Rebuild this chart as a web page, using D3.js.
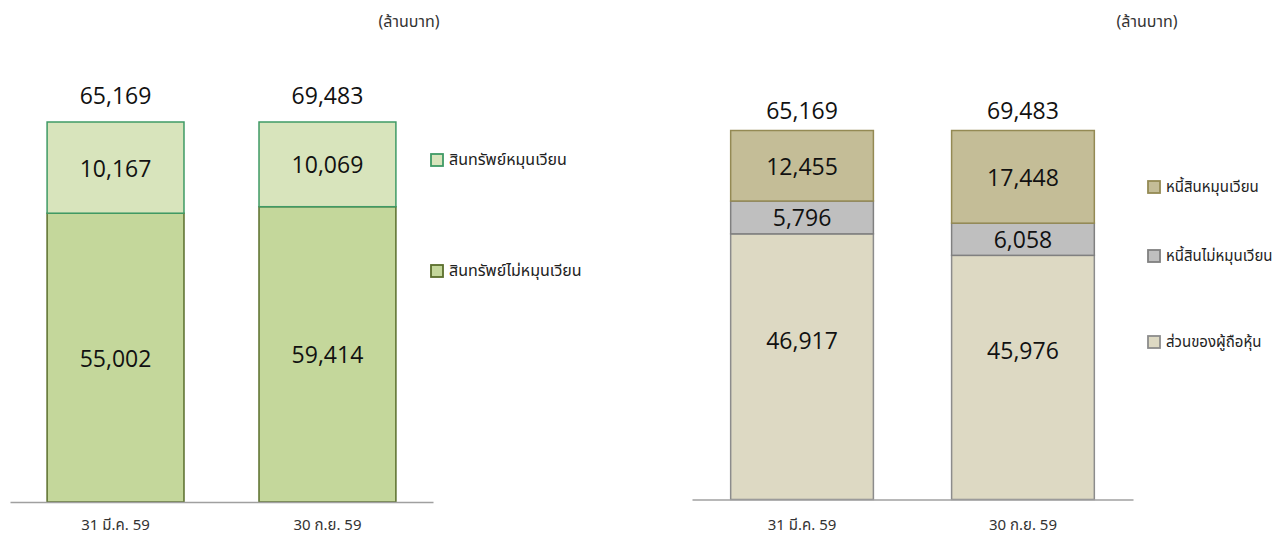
<!DOCTYPE html>
<html>
<head>
<meta charset="utf-8">
<script src="https://cdn.jsdelivr.net/npm/d3@7"></script>
<style>
  html, body { margin: 0; padding: 0; background: #fff; }
  svg { display: block; }
  .num { font-family: "Open Sans", "Noto Sans", sans-serif; fill: #111; }
  .thai { font-family: "Noto Sans Thai", "Tahoma", "Noto Sans", "DejaVu Sans", sans-serif; }
</style>
</head>
<body>
<svg id="chart" width="1288" height="539"></svg>
<script>
// ---------- data ----------
const categories = ["31 มี.ค. 59", "30 ก.ย. 59"];
const unitLabel = "(ล้านบาท)";

// Assets chart
const assetSeries = ["สินทรัพย์ไม่หมุนเวียน", "สินทรัพย์หมุนเวียน"];   // bottom -> top
const nonCurrentAssets = [55002, 59414];
const currentAssets = [10167, 10069];
const totalAssets = [65169, 69483];

// Liabilities & equity chart
const liabSeries = ["ส่วนของผู้ถือหุ้น", "หนี้สินไม่หมุนเวียน", "หนี้สินหมุนเวียน"]; // bottom -> top
const equity = [46917, 45976];
const nonCurrentLiab = [5796, 6058];
const currentLiab = [12455, 17448];
const totalLiabEquity = [65169, 69483];

// ---------- drawing ----------
const svg = d3.select("#chart");
const fmt = d3.format(",");

function drawChart(cfg) {
  const g = svg.append("g");
  const x = d3.scaleBand().domain(categories).range(cfg.xRange)
    .paddingInner(0.354).paddingOuter(0.175);
  const y = d3.scaleLinear().domain(cfg.yDomain).range(cfg.yRange).clamp(true);

  // build 100% stacked rows
  const rows = categories.map((c, i) => {
    const row = { cat: c, total: cfg.totals[i] };
    cfg.series.forEach((s, k) => row[s] = cfg.values[k][i] / cfg.totals[i]);
    return row;
  });
  const stack = d3.stack().keys(cfg.series)(rows);

  stack.forEach((layer, k) => {
    const st = cfg.styles[k];
    g.selectAll(null).data(layer).join("rect")
      .attr("x", d => x(d.data.cat))
      .attr("width", x.bandwidth())
      .attr("y", d => y(d[1]))
      .attr("height", d => y(d[0]) - y(d[1]))
      .attr("fill", st.fill)
      .attr("stroke", st.stroke)
      .attr("stroke-width", 1.5);
  });
  // labels in segments
  stack.forEach((layer, k) => {
    const st = cfg.styles[k];
    g.selectAll(null).data(layer).join("text")
      .attr("class", "num")
      .attr("x", d => x(d.data.cat) + x.bandwidth() / 2)
      .attr("y", d => (y(d[0]) + y(d[1])) / 2 + (st.dy || 0))
      .attr("text-anchor", "middle")
      .attr("dominant-baseline", "central")
      .attr("font-size", 23)
      .text((d, i) => fmt(cfg.values[k][i]));
  });
  // totals
  g.selectAll(null).data(rows).join("text")
    .attr("class", "num")
    .attr("x", d => x(d.cat) + x.bandwidth() / 2)
    .attr("y", y(1) - cfg.totalOffset)
    .attr("text-anchor", "middle")
    .attr("dominant-baseline", "central")
    .attr("font-size", 23)
    .text(d => fmt(d.total));

  // axis
  const axis = d3.axisBottom(x).tickSize(0).tickPadding(0);
  const ax = g.append("g").attr("transform", `translate(0,${cfg.yRange[0]})`).call(axis);
  ax.select(".domain").attr("stroke", "#a0a0a0").attr("stroke-width", 1.5);
  ax.selectAll(".tick text")
    .attr("class", "thai")
    .attr("font-size", 15)
    .attr("fill", "#333")
    .attr("dy", null)
    .attr("y", cfg.catLabelY - cfg.yRange[0])
    .attr("dominant-baseline", "alphabetic");

  // unit label
  g.append("text").attr("class", "thai")
    .attr("x", cfg.unitX).attr("y", 22)
    .attr("text-anchor", "middle").attr("dominant-baseline", "central")
    .attr("font-size", 16).attr("fill", "#333")
    .text(unitLabel);

  // legend (top to bottom order supplied)
  cfg.legend.forEach(l => {
    const st = cfg.styles[cfg.series.indexOf(l.key)];
    g.append("rect")
      .attr("x", cfg.legendX).attr("y", l.y - 6)
      .attr("width", 12).attr("height", 12)
      .attr("fill", st.fill).attr("stroke", st.stroke).attr("stroke-width", 1.8);
    g.append("text").attr("class", "thai")
      .attr("x", cfg.legendX + 18).attr("y", l.y)
      .attr("dominant-baseline", "central")
      .attr("font-size", cfg.legendFont).attr("fill", "#222")
      .text(l.key);
  });
}

drawChart({
  xRange: [10, 433],
  yRange: [502, 122],
  yDomain: [0.35, 1],
  series: assetSeries,
  values: [nonCurrentAssets, currentAssets],
  totals: totalAssets,
  styles: [
    { fill: "#c4d79b", stroke: "#5a6e2c" },
    { fill: "#d8e4bc", stroke: "#3f9a65" }
  ],
  totalOffset: 27,
  catLabelY: 530,
  unitX: 409,
  legendX: 431,
  legendFont: 16,
  legend: [
    { key: "สินทรัพย์หมุนเวียน", y: 160 },
    { key: "สินทรัพย์ไม่หมุนเวียน", y: 271 }
  ]
});

drawChart({
  xRange: [692, 1133],
  yRange: [499.5, 130.5],
  yDomain: [0, 1],
  series: liabSeries,
  values: [equity, nonCurrentLiab, currentLiab],
  totals: totalLiabEquity,
  styles: [
    { fill: "#ddd9c3", stroke: "#8c8c8c", dy: -27 },
    { fill: "#bfbfbf", stroke: "#808080" },
    { fill: "#c4bd97", stroke: "#948a54" }
  ],
  totalOffset: 20.5,
  catLabelY: 530,
  unitX: 1147,
  legendX: 1148,
  legendFont: 15,
  legend: [
    { key: "หนี้สินหมุนเวียน", y: 187 },
    { key: "หนี้สินไม่หมุนเวียน", y: 256 },
    { key: "ส่วนของผู้ถือหุ้น", y: 342 }
  ]
});
</script>
</body>
</html>
